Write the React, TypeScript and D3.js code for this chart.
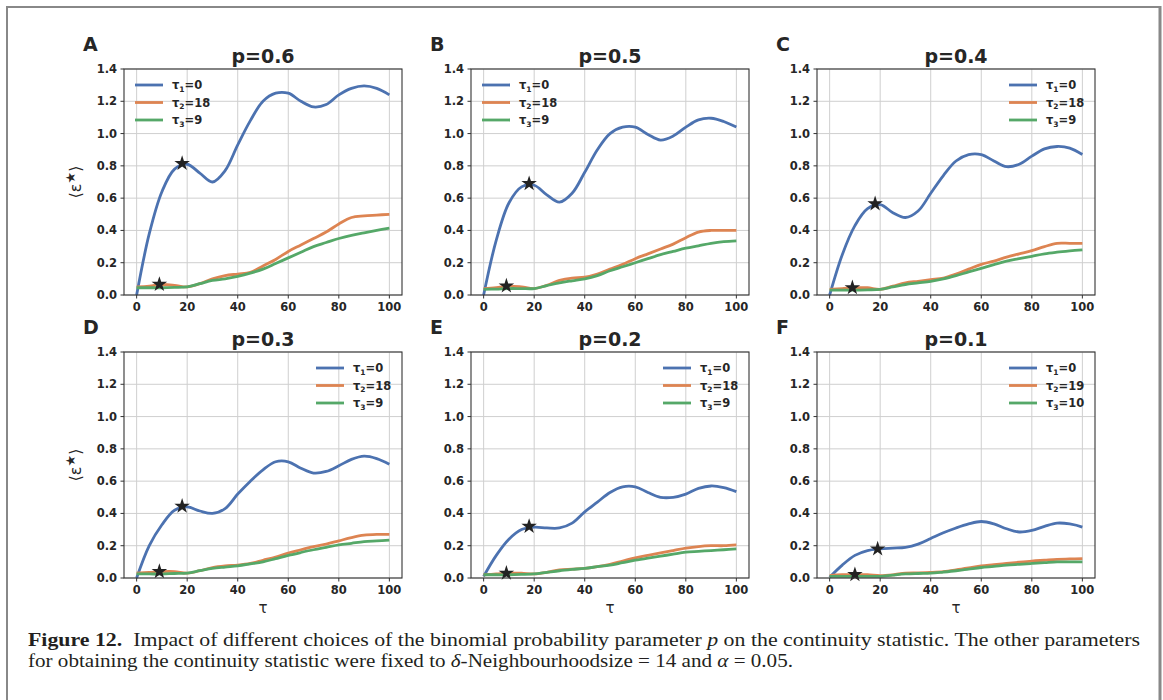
import * as d3 from "d3";

// sample positions (tau) shared by every series
const TAU = [0, 5, 10, 15, 20, 25, 30, 35, 40, 45, 50, 55, 60, 65, 70, 75, 80, 85, 90, 95, 100];

const letters = ["A", "B", "C", "D", "E", "F"];
const probs = ["0.6", "0.5", "0.4", "0.3", "0.2", "0.1"];
// tau1, tau2, tau3 per panel
const tauChoices = [
	[0, 18, 9],
	[0, 18, 9],
	[0, 18, 9],
	[0, 18, 9],
	[0, 18, 9],
	[0, 19, 10],
];

const blue = [
	[0, 0.38, 0.64, 0.78, 0.81, 0.755, 0.7, 0.77, 0.93, 1.08, 1.2, 1.25, 1.25, 1.2, 1.165, 1.18, 1.24, 1.28, 1.295, 1.28, 1.24],
	[0, 0.34, 0.57, 0.67, 0.68, 0.62, 0.575, 0.63, 0.76, 0.9, 1.0, 1.04, 1.04, 0.995, 0.96, 0.985, 1.04, 1.085, 1.095, 1.075, 1.04],
	[0, 0.25, 0.43, 0.535, 0.56, 0.51, 0.48, 0.52, 0.63, 0.74, 0.83, 0.87, 0.87, 0.83, 0.795, 0.81, 0.86, 0.905, 0.92, 0.91, 0.87],
	[0, 0.2, 0.33, 0.42, 0.44, 0.415, 0.4, 0.43, 0.52, 0.6, 0.67, 0.72, 0.72, 0.68, 0.65, 0.66, 0.695, 0.735, 0.755, 0.74, 0.705],
	[0.01, 0.14, 0.24, 0.3, 0.315, 0.31, 0.31, 0.34, 0.41, 0.47, 0.53, 0.565, 0.565, 0.53, 0.5, 0.5, 0.52, 0.555, 0.57, 0.56, 0.535],
	[0.005, 0.08, 0.14, 0.17, 0.18, 0.185, 0.19, 0.21, 0.245, 0.28, 0.31, 0.335, 0.35, 0.335, 0.305, 0.285, 0.295, 0.32, 0.34, 0.335, 0.315],
];

const orange = [
	[0.05, 0.055, 0.065, 0.06, 0.05, 0.07, 0.1, 0.12, 0.13, 0.14, 0.18, 0.22, 0.27, 0.31, 0.35, 0.39, 0.44, 0.48, 0.49, 0.495, 0.5],
	[0.04, 0.045, 0.055, 0.05, 0.04, 0.06, 0.09, 0.105, 0.11, 0.13, 0.16, 0.19, 0.225, 0.255, 0.285, 0.315, 0.355, 0.39, 0.4, 0.4, 0.4],
	[0.035, 0.04, 0.045, 0.045, 0.035, 0.055, 0.075, 0.085, 0.095, 0.105, 0.13, 0.16, 0.19, 0.21, 0.235, 0.255, 0.275, 0.3, 0.32, 0.32, 0.32],
	[0.03, 0.035, 0.04, 0.04, 0.03, 0.045, 0.065, 0.075, 0.08, 0.09, 0.11, 0.13, 0.155, 0.175, 0.195, 0.21, 0.23, 0.25, 0.265, 0.27, 0.27],
	[0.02, 0.025, 0.03, 0.03, 0.025, 0.035, 0.05, 0.055, 0.06, 0.07, 0.085, 0.105, 0.125, 0.14, 0.155, 0.17, 0.185, 0.195, 0.2, 0.2, 0.205],
	[0.015, 0.02, 0.02, 0.02, 0.015, 0.02, 0.03, 0.032, 0.035, 0.04, 0.05, 0.062, 0.075, 0.082, 0.09, 0.098, 0.105, 0.11, 0.115, 0.118, 0.12],
];

const green = [
	[0.045, 0.045, 0.045, 0.047, 0.05, 0.07, 0.09, 0.1, 0.115, 0.135, 0.16, 0.195, 0.23, 0.265, 0.3, 0.325, 0.35, 0.37, 0.385, 0.4, 0.415],
	[0.035, 0.037, 0.04, 0.04, 0.04, 0.058, 0.075, 0.088, 0.1, 0.12, 0.15, 0.175, 0.2, 0.225, 0.25, 0.27, 0.29, 0.305, 0.32, 0.33, 0.335],
	[0.03, 0.03, 0.03, 0.032, 0.035, 0.05, 0.065, 0.075, 0.085, 0.1, 0.12, 0.143, 0.165, 0.188, 0.21, 0.225, 0.24, 0.255, 0.265, 0.273, 0.28],
	[0.025, 0.025, 0.025, 0.028, 0.03, 0.045, 0.06, 0.068, 0.075, 0.087, 0.1, 0.12, 0.14, 0.158, 0.175, 0.19, 0.205, 0.215, 0.225, 0.23, 0.235],
	[0.02, 0.02, 0.02, 0.022, 0.025, 0.035, 0.045, 0.053, 0.06, 0.07, 0.08, 0.095, 0.11, 0.123, 0.135, 0.148, 0.16, 0.165, 0.17, 0.175, 0.18],
	[0.01, 0.01, 0.01, 0.01, 0.01, 0.018, 0.025, 0.028, 0.03, 0.037, 0.045, 0.055, 0.065, 0.072, 0.08, 0.085, 0.09, 0.095, 0.1, 0.1, 0.1],
];

// star markers: on blue at tau2, on orange at tau3
const starBlue = [0.815, 0.69, 0.565, 0.445, 0.32, 0.18];
const starOrange = [0.066, 0.056, 0.045, 0.04, 0.03, 0.021];

const xTicks = [0, 20, 40, 60, 80, 100];
const yTicks = [0, 0.2, 0.4, 0.6, 0.8, 1.0, 1.2, 1.4];

const COLORS = ["#4c72b0", "#dd8452", "#55a868"];
const FONT = "'DejaVu Sans', sans-serif";
const INK = "#262626";

const colLeft = [124, 471, 817];
const rowTop = [69, 352];
const PW = 278;
const PH = 226;

function Panel({ i }: { i: number }) {
	const left = colLeft[i % 3];
	const top = rowTop[Math.floor(i / 3)];
	const x = d3.scaleLinear().domain([-5, 105]).range([left, left + PW]);
	const y = d3.scaleLinear().domain([0, 1.4]).range([top + PH, top]);
	const line = d3
		.line<number>()
		.x((_, k) => x(TAU[k]))
		.y((v) => y(v))
		.curve(d3.curveCatmullRom.alpha(0.5));
	const series = [blue[i], orange[i], green[i]];
	const star = d3.symbol(d3.symbolStar, 75)() as string;
	const legendRight = i >= 2;
	const lx = legendRight ? left + PW - 86 : left + 11;
	const clipId = `clip${i}`;
	const tv = tauChoices[i];

	return (
		<g>
			<defs>
				<clipPath id={clipId}>
					<rect x={left} y={top - 2} width={PW} height={PH + 4} />
				</clipPath>
			</defs>
			{xTicks.map((t) => (
				<line key={"gx" + t} x1={x(t)} x2={x(t)} y1={top} y2={top + PH} stroke="#cfcfcf" strokeWidth={1} />
			))}
			{yTicks.map((t) => (
				<line key={"gy" + t} x1={left} x2={left + PW} y1={y(t)} y2={y(t)} stroke="#cfcfcf" strokeWidth={1} />
			))}
			<g clipPath={`url(#${clipId})`}>
				{series.map((s, k) => (
					<path key={k} d={line(s) as string} fill="none" stroke={COLORS[k]} strokeWidth={2.8} />
				))}
			</g>
			<path d={star} transform={`translate(${x(tv[1])},${y(starBlue[i])})`} fill="#222" />
			<path d={star} transform={`translate(${x(tv[2])},${y(starOrange[i])})`} fill="#222" />
			<rect x={left} y={top} width={PW} height={PH} fill="none" stroke="#333" strokeWidth={1.1} />
			{xTicks.map((t) => (
				<g key={"tx" + t}>
					<line x1={x(t)} x2={x(t)} y1={top + PH} y2={top + PH + 3.5} stroke="#333" />
					<text x={x(t)} y={top + PH + 16} textAnchor="middle" fontFamily={FONT} fontWeight="bold" fontSize={11.5} fill={INK}>
						{t}
					</text>
				</g>
			))}
			{yTicks.map((t) => (
				<g key={"ty" + t}>
					<line x1={left - 3.5} x2={left} y1={y(t)} y2={y(t)} stroke="#333" />
					<text x={left - 7} y={y(t) + 4} textAnchor="end" fontFamily={FONT} fontWeight="bold" fontSize={11.5} fill={INK}>
						{t.toFixed(1)}
					</text>
				</g>
			))}
			<text x={left + PW / 2} y={top - 6} textAnchor="middle" fontFamily={FONT} fontWeight="bold" fontSize={19} fill={INK}>
				p={probs[i]}
			</text>
			<text x={left - 41} y={top - 18} fontFamily={FONT} fontWeight="bold" fontSize={19} fill={INK}>
				{letters[i]}
			</text>
			{tv.map((v, k) => {
				const ly = top + 16 + k * 17.5;
				return (
					<g key={"lg" + k}>
						<line x1={lx} x2={lx + 28} y1={ly} y2={ly} stroke={COLORS[k]} strokeWidth={2.8} />
						<text x={lx + 37} y={ly + 4} fontFamily={FONT} fontWeight="bold" fontSize={11.5} fill={INK}>
							τ
							<tspan fontSize={7.5} dy={2.5}>
								{k + 1}
							</tspan>
							<tspan dy={-2.5}>={v}</tspan>
						</text>
					</g>
				);
			})}
			{i % 3 === 0 && (
				<text
					transform={`translate(${left - 43},${top + PH / 2}) rotate(-90)`}
					textAnchor="middle"
					fontFamily={FONT}
					fontSize={16}
					fill={INK}
				>
					⟨ε
					<tspan fontSize={13} dy={-6}>
						★
					</tspan>
					<tspan dy={6}>⟩</tspan>
				</text>
			)}
			{i >= 3 && (
				<text x={left + PW / 2} y={top + PH + 35} textAnchor="middle" fontFamily={FONT} fontSize={15} fill={INK}>
					τ
				</text>
			)}
		</g>
	);
}

export default function App() {
	const serif = "'Liberation Serif', 'DejaVu Serif', serif";
	return (
		<svg
			width={1163}
			height={700}
			style={{ position: "absolute", left: 0, top: 0, background: "#fff" }}
			xmlns="http://www.w3.org/2000/svg"
		>
			<rect x={0} y={0} width={1163} height={700} fill="#fff" />
			<line x1={7} x2={7} y1={7} y2={700} stroke="#888" strokeWidth={2} />
			<line x1={6} x2={1161} y1={7} y2={7} stroke="#888" strokeWidth={2} />
			<line x1={1160} x2={1160} y1={6} y2={700} stroke="#888" strokeWidth={3} />
			{letters.map((_, i) => (
				<Panel key={i} i={i} />
			))}
			<text x={28} y={646} fontFamily={serif} fontSize={18} fill="#231f20" textLength={1112} lengthAdjust="spacingAndGlyphs">
				<tspan fontWeight="bold">Figure 12.</tspan>
				{"\u00a0\u00a0Impact of different choices of the binomial probability parameter "}
				<tspan fontStyle="italic">p</tspan>
				{" on the continuity statistic. The other parameters"}
			</text>
			<text x={28} y={667} fontFamily={serif} fontSize={18} fill="#231f20" textLength={765} lengthAdjust="spacingAndGlyphs">
				{"for obtaining the continuity statistic were fixed to "}
				<tspan fontStyle="italic">δ</tspan>
				{"-Neighbourhoodsize = 14 and "}
				<tspan fontStyle="italic">α</tspan>
				{" = 0.05."}
			</text>
		</svg>
	);
}
